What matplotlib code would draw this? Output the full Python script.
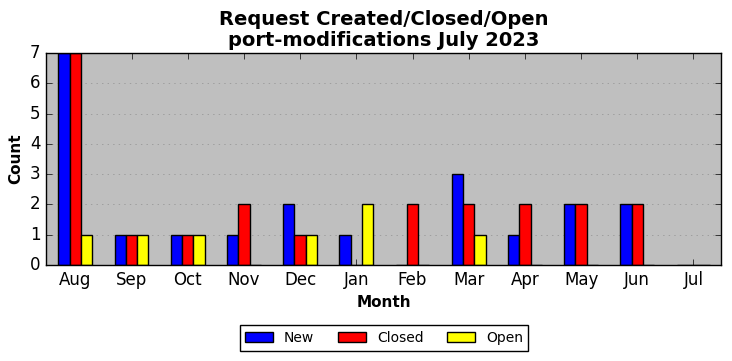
import matplotlib
matplotlib.use("Agg")
import matplotlib.pyplot as plt
import numpy as np

plt.style.use("classic")

months = ["Aug", "Sep", "Oct", "Nov", "Dec", "Jan", "Feb", "Mar", "Apr", "May", "Jun", "Jul"]
new = [7, 1, 1, 1, 2, 1, 0, 3, 1, 2, 2, 0]
closed = [7, 1, 1, 2, 1, 0, 2, 2, 2, 2, 2, 0]
opened = [1, 1, 1, 0, 1, 2, 0, 1, 0, 0, 0, 0]

fig = plt.figure(figsize=(7.32, 3.61), dpi=100, facecolor="white")
ax = fig.add_axes([0.063, 0.266, 0.922, 0.587])
ax.set_facecolor("#bfbfbf")

x = np.arange(len(months))
w = 0.2
ax.bar(x - w, new, w, color="blue", edgecolor="black", label="New", align="center")
ax.bar(x, closed, w, color="red", edgecolor="black", label="Closed", align="center")
ax.bar(x + w, opened, w, color="yellow", edgecolor="black", label="Open", align="center")

ax.set_xticks(x)
ax.set_xticklabels(months, fontsize=12)
ax.set_xlim(-0.52, 11.49)
ax.set_ylim(0, 7)
ax.tick_params(axis="y", labelsize=12)
ax.yaxis.grid(True, linestyle=":", color="#909090")
ax.set_axisbelow(True)

ax.set_xlabel("Month", fontsize=11, fontweight="bold")
ax.set_ylabel("Count", fontsize=11, fontweight="bold")
ax.set_title("Request Created/Closed/Open\nport-modifications July 2023",
             fontsize=14, fontweight="bold", linespacing=1.15)

fig.legend(loc="center", bbox_to_anchor=(384 / 732, 1 - 338 / 361), ncol=3,
           fontsize=10, frameon=True, fancybox=False, columnspacing=1.7)

fig.savefig("out.png", dpi=100, facecolor="white")
